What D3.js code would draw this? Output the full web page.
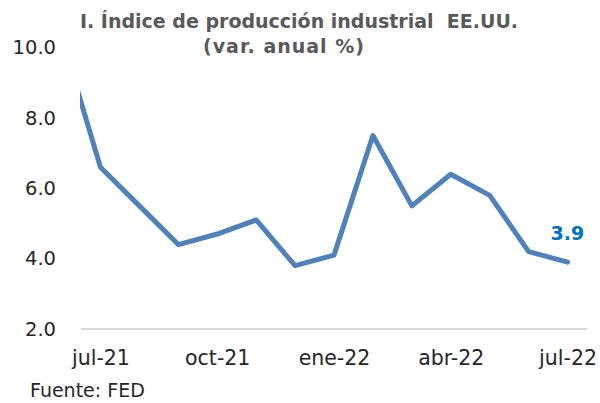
<!DOCTYPE html>
<html>
<head>
<meta charset="utf-8">
<script src="https://cdn.jsdelivr.net/npm/d3@7"></script>
<style>
  body { margin: 0; background: #fff; }
  svg { display: block; }
</style>
</head>
<body>
<div id="chart"></div>
<script>
// meses (el primero, jun-21, queda recortado por el borde izquierdo del gráfico)
const months = ["jun-21", "jul-21", "ago-21", "sep-21", "oct-21", "nov-21", "dic-21",
                "ene-22", "feb-22", "mar-22", "abr-22", "may-22", "jun-22", "jul-22"];
const values = [10.3, 6.6, 5.5, 4.4, 4.7, 5.1, 3.8, 4.1, 7.5, 5.5, 6.4, 5.8, 4.2, 3.9];
const tickLabels = ["jul-21", "oct-21", "ene-22", "abr-22", "jul-22"];
const yTicks = [2, 4, 6, 8, 10];

const w = 600;
const h = 403;

const svg = d3.select("#chart")
  .append("svg")
  .attr("width", w)
  .attr("height", h);

// index 0 = jul-21
const xScale = d3.scaleLinear()
  .domain([-0.5, 12.5])
  .range([81, 587]);
const yScale = d3.scaleLinear()
  .domain([2, 10])
  .range([329, 47.6]);

svg.append("defs").append("clipPath")
  .attr("id", "plot-clip")
  .append("rect")
  .attr("x", 80).attr("y", 0)
  .attr("width", w - 80).attr("height", h);

// title
const title = svg.append("g")
  .style("font-family", "'DejaVu Sans', sans-serif")
  .style("font-weight", "bold")
  .style("font-size", "19px")
  .attr("fill", "#595959")
  .attr("text-anchor", "middle");
title.append("text").attr("x", 299).attr("y", 28)
  .text("I. Índice de producción industrial\u00a0 EE.UU.");
title.append("text").attr("x", 284).attr("y", 53)
  .style("letter-spacing", "1px")
  .text("(var. anual %)");

// y axis (labels only)
const yAxis = d3.axisLeft(yScale)
  .tickValues(yTicks)
  .tickFormat(d3.format(".1f"))
  .tickSize(0)
  .tickPadding(0);
const gy = svg.append("g")
  .attr("transform", "translate(56,0)")
  .call(yAxis);
gy.select(".domain").remove();
gy.selectAll("text")
  .style("font-family", "'DejaVu Sans', sans-serif")
  .style("font-size", "19.5px")
  .attr("fill", "#262626");

// x axis
const xAxis = d3.axisBottom(xScale)
  .tickValues([0, 3, 6, 9, 12])
  .tickFormat((d, i) => tickLabels[i])
  .tickSize(0)
  .tickPadding(0);
const gx = svg.append("g")
  .attr("transform", "translate(0," + yScale(2) + ")")
  .call(xAxis);
gx.select(".domain")
  .attr("stroke", "#d9d9d9")
  .attr("stroke-width", 2)
  .attr("d", "M" + xScale.range()[0] + ",0H" + xScale.range()[1]);
gx.selectAll("text")
  .attr("y", 0)
  .attr("dy", 36)
  .style("font-family", "'DejaVu Sans', sans-serif")
  .style("font-size", "20.5px")
  .attr("fill", "#262626");

// line
const line = d3.line()
  .x((d, i) => xScale(i - 1))
  .y(d => yScale(d));

svg.append("path")
  .datum(values)
  .attr("clip-path", "url(#plot-clip)")
  .attr("fill", "none")
  .attr("stroke", "#4f81bd")
  .attr("stroke-width", 5)
  .attr("stroke-linejoin", "round")
  .attr("stroke-linecap", "round")
  .attr("d", line);

// last value label
const last = values.length - 1;
svg.append("text")
  .attr("x", xScale(last - 1) - 17)
  .attr("y", yScale(values[last]) - 22)
  .style("font-family", "'DejaVu Sans', sans-serif")
  .style("font-weight", "bold")
  .style("font-size", "19px")
  .attr("fill", "#0070c0")
  .text(values[last].toFixed(1));

// source
svg.append("text")
  .attr("x", 30)
  .attr("y", 397)
  .style("font-family", "'DejaVu Sans', sans-serif")
  .style("font-size", "19px")
  .attr("fill", "#262626")
  .text("Fuente: FED");
</script>
</body>
</html>
